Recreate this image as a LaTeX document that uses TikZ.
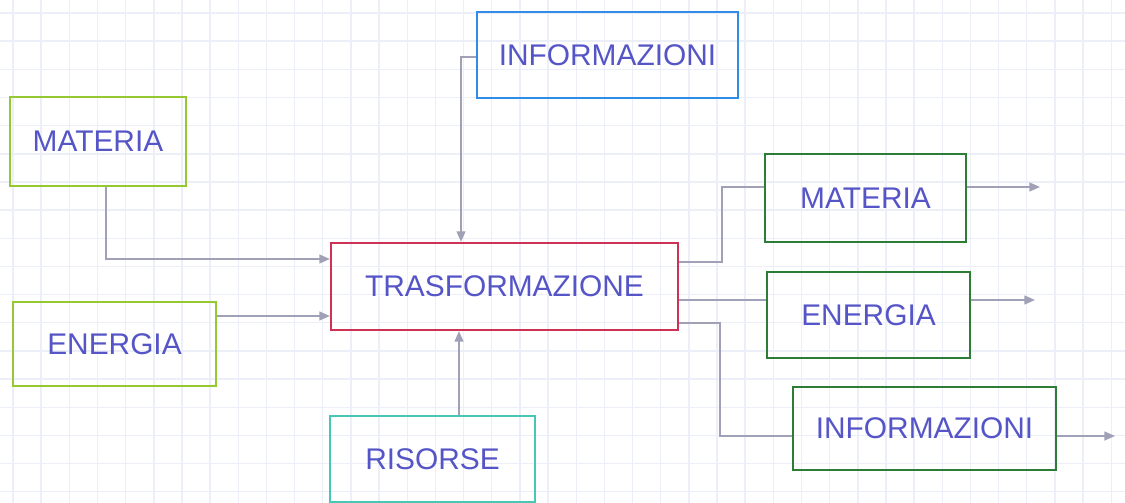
\documentclass[tikz,border=0pt]{standalone}
\usepackage{fontspec}
\setmainfont{Liberation Sans}
\usepackage{tikz}
\usetikzlibrary{arrows.meta}

\definecolor{lime}{RGB}{150,200,50}
\definecolor{sky}{RGB}{50,140,230}
\definecolor{crimson}{RGB}{205,50,85}
\definecolor{teal}{RGB}{70,200,180}
\definecolor{forest}{RGB}{45,125,55}
\definecolor{ink}{RGB}{85,85,200}
\definecolor{wire}{RGB}{160,160,182}
\definecolor{paper}{RGB}{236,238,248}

\begin{document}
\begin{tikzpicture}[x=0.02cm, y=-0.02cm,
  box/.style={draw, line width=1.3pt, text=ink, inner sep=0pt, font=\fontsize{17}{20}\selectfont},
  link/.style={wire, line width=0.9pt},
  arrow/.style={link, -{Triangle[length=6pt,width=5pt]}}]
  \fill[white] (0,0) rectangle (1125,503);
  \useasboundingbox (0,0) rectangle (1125,503);
  % squared paper
  \foreach \k in {0,...,39} \draw[paper, line width=0.8pt] ({13+28.16*\k},0) -- ({13+28.16*\k},503);
  \foreach \k in {0,...,17} \draw[paper, line width=0.8pt] (0,{13+28.16*\k}) -- (1125,{13+28.16*\k});
  % inputs
  \node[box, draw=lime, minimum width=3.52cm, minimum height=1.78cm] (matL) at (98,141.5) {MATERIA};
  \node[box, draw=lime, minimum width=4.06cm, minimum height=1.68cm] (enL) at (114.5,344) {ENERGIA};
  \node[box, draw=sky, minimum width=5.22cm, minimum height=1.72cm] (infT) at (607.5,55) {INFORMAZIONI};
  \node[box, draw=teal, minimum width=4.10cm, minimum height=1.72cm] (ris) at (432.5,459) {RISORSE};
  % process
  \node[box, draw=crimson, minimum width=6.94cm, minimum height=1.74cm] (trasf) at (504.5,286.5) {TRASFORMAZIONE};
  % outputs
  \node[box, draw=forest, line width=1.5pt, minimum width=4.02cm, minimum height=1.76cm] (matR) at (865.5,198) {MATERIA};
  \node[box, draw=forest, line width=1.5pt, minimum width=4.06cm, minimum height=1.72cm] (enR) at (868.5,315) {ENERGIA};
  \node[box, draw=forest, line width=1.5pt, minimum width=5.26cm, minimum height=1.66cm] (infR) at (924.5,428.5) {INFORMAZIONI};
  % connectors in
  \draw[arrow] (matL.south -| 106,0) |- (trasf.west |- 0,259);
  \draw[arrow] (enL.east |- 0,316) -- (trasf.west |- 0,316);
  \draw[arrow] (infT.west |- 0,57) -| (trasf.north -| 461,0);
  \draw[arrow] (ris.north -| 459,0) -- (trasf.south -| 459,0);
  % connectors out
  \coordinate (upM) at (722,187);
  \coordinate (dnI) at (720,436);
  \draw[link] (trasf.east |- 0,262) -| (upM) -- (matR.west |- upM);
  \draw[link] (trasf.east |- 0,300) -- (enR.west |- 0,300);
  \draw[link] (trasf.east |- 0,323) -| (dnI) -- (infR.west |- dnI);
  \coordinate (outM) at (1040,187);
  \coordinate (outE) at (1035,300);
  \coordinate (outI) at (1115,436);
  \draw[arrow] (matR.east |- outM) -- (outM);
  \draw[arrow] (enR.east |- outE) -- (outE);
  \draw[arrow] (infR.east |- outI) -- (outI);
\end{tikzpicture}
\end{document}
